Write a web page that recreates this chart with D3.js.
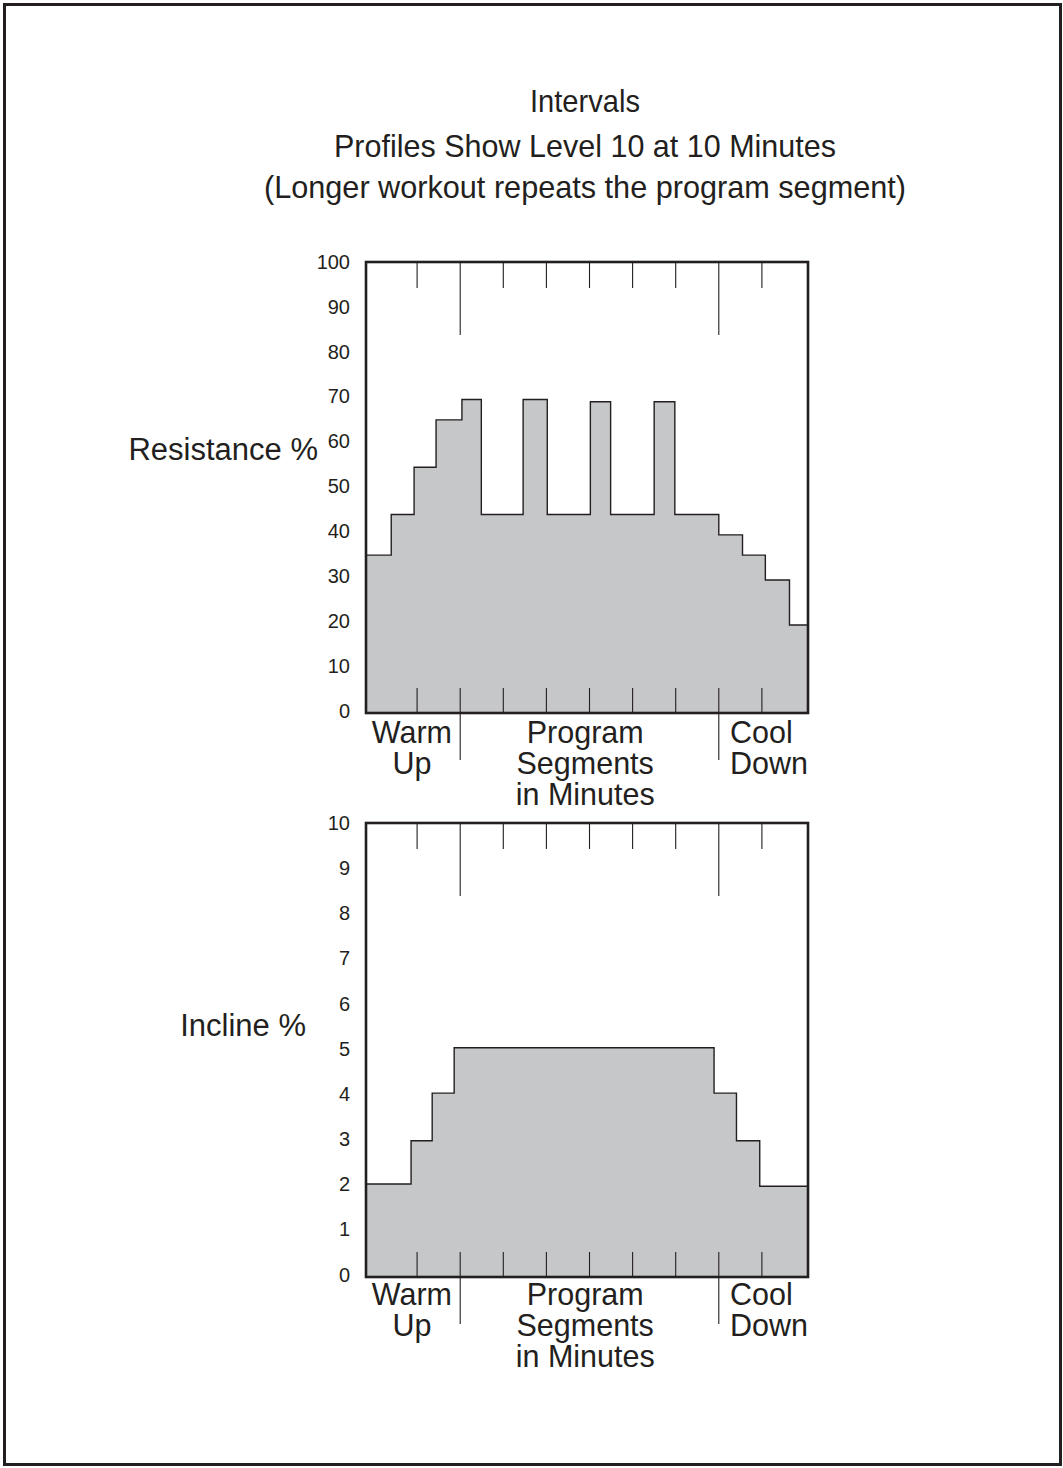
<!DOCTYPE html>
<html>
<head>
<meta charset="utf-8">
<script src="https://cdn.jsdelivr.net/npm/d3@7"></script>
<style>
  html, body { margin: 0; padding: 0; background: #fff; }
  svg text { font-family: "Liberation Sans", Arial, Helvetica, sans-serif; fill: #231f20; }
</style>
</head>
<body>
<svg id="chart" width="1063" height="1468"></svg>
<script>
// ---------------- DATA ----------------
const titleLines = ["Intervals", "Profiles Show Level 10 at 10 Minutes", "(Longer workout repeats the program segment)"];

// Minute marks along the time axis (unlabelled ticks), and the longer section dividers
const minuteTicks = [1, 2, 3, 4, 5, 6, 7, 8, 9];
const sectionDividers = [2, 8];
const sectionLabels = [
  { lines: ["Warm", "Up"], at: 0.88, anchor: "middle" },
  { lines: ["Program", "Segments", "in Minutes"], at: 4.9, anchor: "middle" },
  { lines: ["Cool", "Down"], at: 8.26, anchor: "start" }
];

// Resistance profile: inner step edges (minutes) and level for each step (%)
const resistanceEdges = [0.4, 0.93, 1.44, 2.04, 2.49, 3.46, 4.02, 5.02, 5.49, 6.5, 6.98, 8.0, 8.55, 9.08, 9.64];
const resistanceValues = [35, 44, 54.5, 65, 69.5, 44, 69.5, 44, 69, 44, 69, 44, 39.5, 35, 29.5, 19.5];
const resistanceTicks = [0, 10, 20, 30, 40, 50, 60, 70, 80, 90, 100];

// Incline profile
const inclineEdges = [0.86, 1.35, 1.86, 7.89, 8.41, 8.95];
const inclineValues = [2.05, 3, 4.05, 5.05, 4.05, 3, 2];
const inclineTicks = [0, 1, 2, 3, 4, 5, 6, 7, 8, 9, 10];

// ---------------- LAYOUT ----------------
const ink = "#231f20";
const fillGrey = "#c6c7c9";
const frameLeft = 366, frameRight = 808;
const svg = d3.select("#chart");

// outer border
svg.append("rect").attr("x", 4.5).attr("y", 4.5).attr("width", 1056).attr("height", 1460)
  .attr("fill", "none").attr("stroke", ink).attr("stroke-width", 3);

// titles
const titleY = [112, 157, 198];
const titleW = [110, 502, 642];
svg.selectAll("text.title").data(titleLines).join("text")
  .attr("class", "title")
  .attr("x", 585).attr("y", (d, i) => titleY[i])
  .attr("text-anchor", "middle").attr("font-size", 30.5)
  .attr("textLength", (d, i) => titleW[i]).attr("lengthAdjust", "spacingAndGlyphs")
  .text(d => d);

const x = d3.scaleLinear().domain([0, 10]).range([374, 805]);

function drawPanel(cfg) {
  const g = svg.append("g");
  const y = d3.scaleLinear().domain(cfg.domain).range([cfg.bottom, cfg.top]);

  // step area
  const pts = [{ px: frameLeft, v: cfg.values[0] }];
  cfg.edges.forEach((e, i) => pts.push({ px: x(e), v: cfg.values[i + 1] }));
  pts.push({ px: frameRight, v: cfg.values[cfg.values.length - 1] });

  const area = d3.area().curve(d3.curveStepAfter)
    .x(d => d.px).y0(y(cfg.domain[0])).y1(d => y(d.v));
  const line = d3.line().curve(d3.curveStepAfter)
    .x(d => d.px).y(d => y(d.v));
  g.append("path").attr("d", area(pts)).attr("fill", fillGrey);
  g.append("path").attr("d", line(pts)).attr("fill", "none")
    .attr("stroke", ink).attr("stroke-width", 1.4);

  // y axis labels
  const yAxis = d3.axisLeft(y).tickValues(cfg.ticks).tickSize(0).tickPadding(16);
  const ag = g.append("g").attr("transform", `translate(${frameLeft},0)`).call(yAxis);
  ag.select(".domain").remove();
  ag.selectAll("text").attr("font-size", 20).attr("fill", ink)
    .attr("font-family", "Liberation Sans, Arial, sans-serif")
    .attr("dy", (d, i) => (0.32 - 0.012 * (cfg.ticks.length - 1 - i)) + "em");

  // y title
  g.append("text").attr("x", cfg.labelX).attr("y", cfg.labelY)
    .attr("text-anchor", "end").attr("font-size", 31).text(cfg.label);

  // minute ticks, top and bottom
  const tg = g.append("g");
  minuteTicks.forEach(m => {
    const long = sectionDividers.includes(m);
    tg.append("line").attr("x1", x(m)).attr("x2", x(m))
      .attr("y1", cfg.top).attr("y2", cfg.top + (long ? 73 : 26))
      .attr("stroke", ink).attr("stroke-width", 1.1);
    tg.append("line").attr("x1", x(m)).attr("x2", x(m))
      .attr("y1", cfg.bottom - 25).attr("y2", cfg.bottom + (long ? 47 : 0))
      .attr("stroke", ink).attr("stroke-width", 1.1);
  });

  // frame
  g.append("rect").attr("x", frameLeft).attr("y", cfg.top)
    .attr("width", frameRight - frameLeft).attr("height", cfg.bottom - cfg.top)
    .attr("fill", "none").attr("stroke", ink).attr("stroke-width", 2.6);

  // section labels
  sectionLabels.forEach(s => {
    s.lines.forEach((t, i) => {
      g.append("text").attr("x", x(s.at)).attr("y", cfg.bottom + cfg.labelGap + i * 31)
        .attr("text-anchor", s.anchor).attr("font-size", 30.5).text(t);
    });
  });
}

drawPanel({
  domain: [0, 100], top: 262, bottom: 713, labelGap: 30,
  edges: resistanceEdges, values: resistanceValues, ticks: resistanceTicks,
  label: "Resistance %", labelX: 318, labelY: 460
});

drawPanel({
  domain: [0, 10], top: 823, bottom: 1277, labelGap: 28,
  edges: inclineEdges, values: inclineValues, ticks: inclineTicks,
  label: "Incline %", labelX: 306, labelY: 1036
});
</script>
</body>
</html>
